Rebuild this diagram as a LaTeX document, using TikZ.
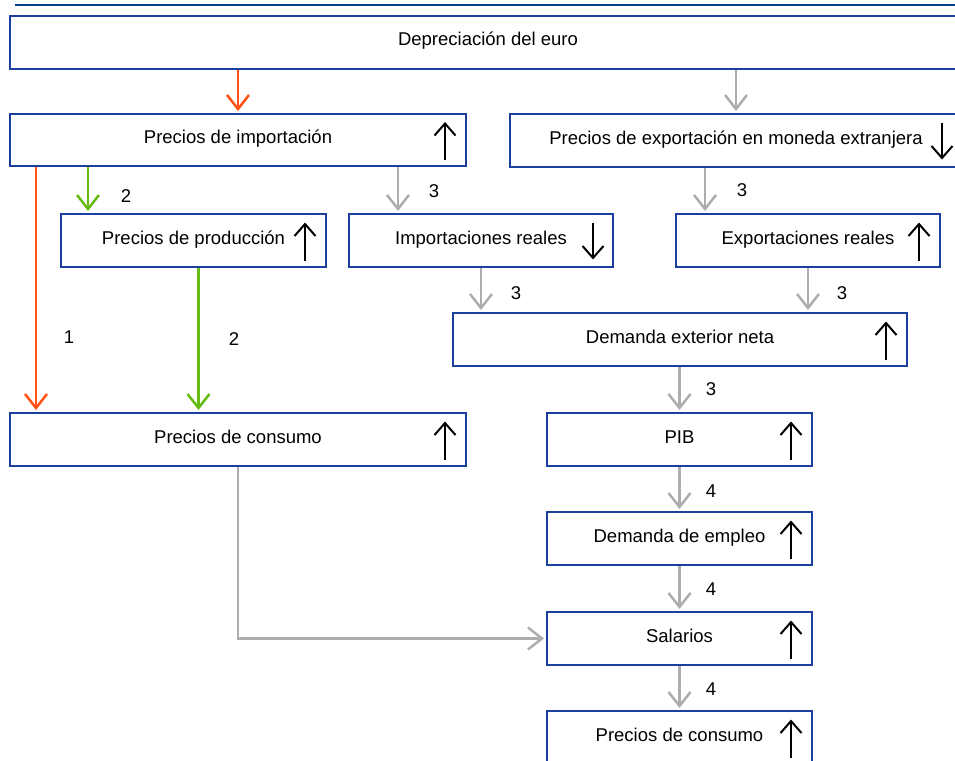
\documentclass[tikz,border=0pt]{standalone}
\usepackage{fontspec}
\setmainfont{Liberation Sans}
\usetikzlibrary{arrows.meta}
\definecolor{boxblue}{HTML}{1A3F9C}
\definecolor{topblue}{HTML}{003C8C}
\definecolor{arrorange}{HTML}{FF5214}
\definecolor{arrgreen}{HTML}{66BB11}
\definecolor{arrgray}{HTML}{ADADAD}
\begin{document}
\begin{tikzpicture}[x=1pt,y=-1pt,
  box/.style={draw=boxblue, line width=2pt, rectangle, inner sep=0pt,
    text height=13pt, text depth=6pt,
    font=\fontsize{18.5}{22}\selectfont, text=black},
  num/.style={inner sep=0pt, font=\fontsize{18.5}{22}\selectfont, text=black},
  conn/.style={line width=2.5pt, shorten >=2pt, -{Straight Barb[length=14pt,width=22pt]}},
  orangec/.style={conn, draw=arrorange},
  greenc/.style={conn, draw=arrgreen},
  grayc/.style={conn, draw=arrgray},
  updown/.style={line width=2pt, draw=black, -{Straight Barb[length=12pt,width=21pt]}}
]
\useasboundingbox (0,0) rectangle (955,760);
\draw[topblue, line width=2.5pt] (15,5) -- (955,5);

% boxes
\node[box, minimum width=956pt, minimum height=53pt] (dep) at (488,42.5) {Depreciación del euro};
\node[box, minimum width=456pt, minimum height=52pt] (imp) at (238,140) {Precios de importación};
\node[box, minimum width=452pt, minimum height=53pt] (exp) at (736,140.5) {Precios de exportación en moneda extranjera};
\node[box, minimum width=265pt, minimum height=53pt] (prod) at (193.5,240.5) {Precios de producción};
\node[box, minimum width=264pt, minimum height=53pt] (impr) at (481,240.5) {Importaciones reales};
\node[box, minimum width=264pt, minimum height=53pt] (expr) at (808,240.5) {Exportaciones reales};
\node[box, minimum width=454pt, minimum height=53pt] (dem) at (680,339.5) {Demanda exterior neta};
\node[box, minimum width=456pt, minimum height=53pt] (cons) at (238,439.5) {Precios de consumo};
\node[box, minimum width=265pt, minimum height=53pt] (pib) at (679.5,439.5) {PIB};
\node[box, minimum width=265pt, minimum height=53pt] (emp) at (679.5,538.5) {Demanda de empleo};
\node[box, minimum width=265pt, minimum height=53pt] (sal) at (679.5,638.5) {Salarios};
\node[box, minimum width=265pt, minimum height=53pt] (cons2) at (679.5,737.5) {Precios de consumo};

% up / down arrows in boxes
\foreach \b in {imp,prod,expr,dem,cons,pib,emp,sal,cons2}{
  \draw[updown] ([xshift=-22pt,yshift=-20pt]\b.east) -- ([xshift=-22pt,yshift=18pt]\b.east);
}
\foreach \b in {exp,impr}{
  \draw[updown] ([xshift=-21pt,yshift=18pt]\b.east) -- ([xshift=-21pt,yshift=-19pt]\b.east);
}

% connectors
\draw[orangec] (dep.south -| imp.north) -- (imp.north);
\draw[grayc] (dep.south -| exp.north) -- (exp.north);
\draw[orangec] ([xshift=27pt]imp.south west) -- ([xshift=27pt]cons.north west);
\draw[greenc] ([xshift=28pt]prod.north west |- imp.south) -- ([xshift=28pt]prod.north west);
\draw[greenc] ([xshift=5pt]prod.south) -- ([xshift=5pt]prod.south |- cons.north);
\draw[grayc] ([xshift=50pt]impr.north west |- imp.south) -- ([xshift=50pt]impr.north west);
\draw[grayc] ([xshift=30pt]expr.north west |- exp.south) -- ([xshift=30pt]expr.north west);
\draw[grayc] (impr.south) -- (impr.south |- dem.north);
\draw[grayc] (expr.south) -- (expr.south |- dem.north);
\draw[grayc] (dem.south -| pib.north) -- (pib.north);
\draw[grayc] (pib.south) -- (emp.north);
\draw[grayc] (emp.south) -- (sal.north);
\draw[grayc] (sal.south) -- (cons2.north);
\draw[grayc] (cons.south) |- (sal.west);

% labels
\node[num] (n1) at (69,337) {1};
\node[num] (n2a) at (126,196) {2};
\node[num] (n2b) at (234,339) {2};
\node[num] (n3a) at (434,191) {3};
\node[num] (n3b) at (742,190) {3};
\node[num] (n3c) at (516,293) {3};
\node[num] (n3d) at (842,293) {3};
\node[num] (n3e) at (711,389) {3};
\node[num] (n4a) at (711,491) {4};
\node[num] (n4b) at (711,589) {4};
\node[num] (n4c) at (711,689) {4};
\end{tikzpicture}
\end{document}
